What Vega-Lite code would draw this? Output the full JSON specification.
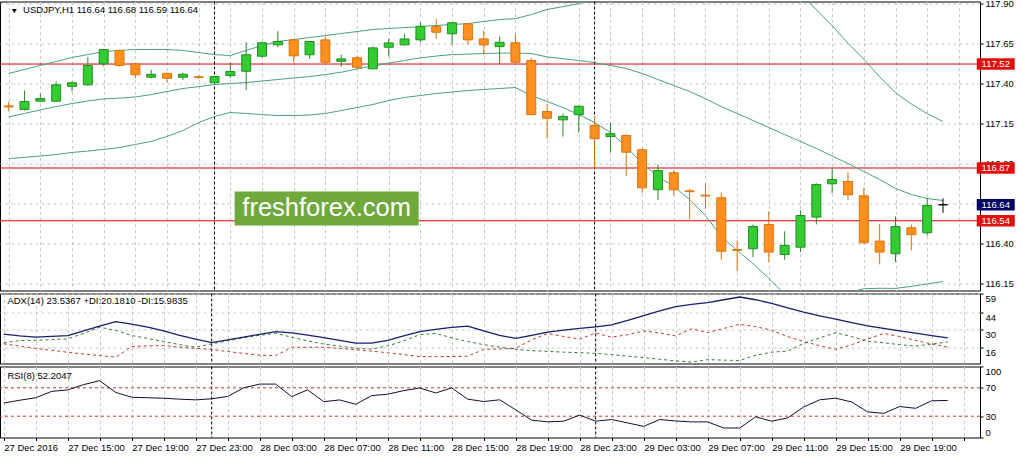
{
  "$schema": "https://vega.github.io/schema/vega-lite/v6.json",
  "autosize": {"type": "pad"},
  "padding": {"left": -1, "top": -2.5, "right": 0, "bottom": 0},
  "background": "#ffffff",
  "spacing": 3,
  "bounds": "flush",
  "config": {
    "view": {"stroke": "#000000", "strokeWidth": 1},
    "axis": {"labelFont": "Liberation Sans", "labelFontSize": 9.5, "labelColor": "#000000", "tickColor": "#000000", "gridColor": "#c8c8c8", "gridDash": [3, 3], "gridWidth": 1, "domain": false, "title": null, "labelOverlap": false}
  },
  "resolve": {"scale": {"x": "independent", "y": "independent"}},
  "datasets": {
    "bars": [
      {"i":0,"o":117.258,"h":117.285,"l":117.225,"c":117.252,"bu":117.461,"bm":117.189,"bl":116.929,"adx":26.4,"pdi":19.5,"mdi":18.7,"rsi":48.5},
      {"i":1,"o":117.236,"h":117.354,"l":117.229,"c":117.286,"bu":117.486,"bm":117.211,"bl":116.936,"adx":25.0,"pdi":21.3,"mdi":16.8,"rsi":52.5},
      {"i":2,"o":117.288,"h":117.334,"l":117.285,"c":117.304,"bu":117.511,"bm":117.233,"bl":116.945,"adx":24.0,"pdi":21.5,"mdi":15.0,"rsi":56.0},
      {"i":3,"o":117.288,"h":117.411,"l":117.285,"c":117.39,"bu":117.536,"bm":117.254,"bl":116.954,"adx":24.6,"pdi":22.0,"mdi":13.5,"rsi":65.0},
      {"i":4,"o":117.381,"h":117.411,"l":117.35,"c":117.403,"bu":117.561,"bm":117.273,"bl":116.967,"adx":25.3,"pdi":22.7,"mdi":11.9,"rsi":67.0},
      {"i":5,"o":117.39,"h":117.563,"l":117.385,"c":117.511,"bu":117.579,"bm":117.289,"bl":116.976,"adx":29.0,"pdi":27.0,"mdi":10.5,"rsi":74.5},
      {"i":6,"o":117.521,"h":117.615,"l":117.506,"c":117.611,"bu":117.598,"bm":117.302,"bl":116.986,"adx":32.8,"pdi":32.0,"mdi":9.3,"rsi":80.0},
      {"i":7,"o":117.604,"h":117.611,"l":117.505,"c":117.511,"bu":117.605,"bm":117.307,"bl":116.998,"adx":36.5,"pdi":29.5,"mdi":7.9,"rsi":63.5},
      {"i":8,"o":117.521,"h":117.525,"l":117.431,"c":117.453,"bu":117.611,"bm":117.314,"bl":117.017,"adx":34.5,"pdi":25.3,"mdi":16.5,"rsi":56.7},
      {"i":9,"o":117.438,"h":117.484,"l":117.43,"c":117.456,"bu":117.611,"bm":117.329,"bl":117.036,"adx":32.0,"pdi":23.0,"mdi":17.0,"rsi":56.0},
      {"i":10,"o":117.462,"h":117.465,"l":117.406,"c":117.431,"bu":117.611,"bm":117.348,"bl":117.067,"adx":29.0,"pdi":20.5,"mdi":17.3,"rsi":55.3},
      {"i":11,"o":117.438,"h":117.465,"l":117.42,"c":117.456,"bu":117.605,"bm":117.367,"bl":117.104,"adx":25.5,"pdi":18.0,"mdi":16.0,"rsi":54.0},
      {"i":12,"o":117.44,"h":117.448,"l":117.425,"c":117.437,"bu":117.592,"bm":117.379,"bl":117.154,"adx":22.5,"pdi":15.9,"mdi":15.0,"rsi":53.0},
      {"i":13,"o":117.404,"h":117.445,"l":117.39,"c":117.442,"bu":117.579,"bm":117.392,"bl":117.192,"adx":19.7,"pdi":18.7,"mdi":14.1,"rsi":54.5},
      {"i":14,"o":117.448,"h":117.531,"l":117.434,"c":117.473,"bu":117.573,"bm":117.398,"bl":117.217,"adx":21.8,"pdi":21.0,"mdi":12.5,"rsi":57.8},
      {"i":15,"o":117.475,"h":117.656,"l":117.359,"c":117.578,"bu":117.605,"bm":117.404,"bl":117.211,"adx":24.0,"pdi":23.5,"mdi":11.0,"rsi":70.0},
      {"i":16,"o":117.569,"h":117.66,"l":117.56,"c":117.653,"bu":117.636,"bm":117.414,"bl":117.204,"adx":26.3,"pdi":25.5,"mdi":9.5,"rsi":75.2},
      {"i":17,"o":117.64,"h":117.725,"l":117.625,"c":117.661,"bu":117.661,"bm":117.423,"bl":117.198,"adx":28.5,"pdi":27.1,"mdi":9.3,"rsi":75.2},
      {"i":18,"o":117.671,"h":117.675,"l":117.531,"c":117.571,"bu":117.673,"bm":117.433,"bl":117.198,"adx":27.5,"pdi":24.0,"mdi":15.9,"rsi":57.6},
      {"i":19,"o":117.578,"h":117.665,"l":117.553,"c":117.661,"bu":117.686,"bm":117.442,"bl":117.201,"adx":25.6,"pdi":21.0,"mdi":15.9,"rsi":67.1},
      {"i":20,"o":117.671,"h":117.692,"l":117.53,"c":117.531,"bu":117.698,"bm":117.454,"bl":117.211,"adx":23.6,"pdi":18.5,"mdi":15.9,"rsi":50.5},
      {"i":21,"o":117.537,"h":117.579,"l":117.504,"c":117.552,"bu":117.711,"bm":117.469,"bl":117.229,"adx":21.5,"pdi":16.8,"mdi":15.0,"rsi":52.9},
      {"i":22,"o":117.559,"h":117.573,"l":117.488,"c":117.5,"bu":117.723,"bm":117.489,"bl":117.248,"adx":19.2,"pdi":15.2,"mdi":14.0,"rsi":46.7},
      {"i":23,"o":117.49,"h":117.629,"l":117.49,"c":117.621,"bu":117.736,"bm":117.508,"bl":117.267,"adx":19.2,"pdi":14.5,"mdi":12.8,"rsi":59.0},
      {"i":24,"o":117.625,"h":117.677,"l":117.567,"c":117.652,"bu":117.742,"bm":117.526,"bl":117.292,"adx":21.5,"pdi":17.0,"mdi":11.5,"rsi":61.0},
      {"i":25,"o":117.64,"h":117.709,"l":117.635,"c":117.677,"bu":117.748,"bm":117.542,"bl":117.311,"adx":25.0,"pdi":21.0,"mdi":10.0,"rsi":66.0},
      {"i":26,"o":117.671,"h":117.781,"l":117.656,"c":117.756,"bu":117.754,"bm":117.558,"bl":117.323,"adx":28.4,"pdi":26.0,"mdi":8.5,"rsi":69.8},
      {"i":27,"o":117.754,"h":117.803,"l":117.678,"c":117.719,"bu":117.761,"bm":117.57,"bl":117.336,"adx":30.2,"pdi":27.0,"mdi":8.4,"rsi":62.7},
      {"i":28,"o":117.709,"h":117.78,"l":117.64,"c":117.778,"bu":117.767,"bm":117.579,"bl":117.345,"adx":31.8,"pdi":23.5,"mdi":8.5,"rsi":69.8},
      {"i":29,"o":117.771,"h":117.775,"l":117.64,"c":117.671,"bu":117.773,"bm":117.582,"bl":117.354,"adx":32.9,"pdi":20.5,"mdi":8.7,"rsi":54.0},
      {"i":30,"o":117.677,"h":117.729,"l":117.578,"c":117.64,"bu":117.786,"bm":117.586,"bl":117.361,"adx":29.0,"pdi":18.0,"mdi":14.2,"rsi":50.7},
      {"i":31,"o":117.629,"h":117.692,"l":117.521,"c":117.656,"bu":117.798,"bm":117.588,"bl":117.367,"adx":25.5,"pdi":16.0,"mdi":14.6,"rsi":53.1},
      {"i":32,"o":117.653,"h":117.704,"l":117.53,"c":117.531,"bu":117.804,"bm":117.589,"bl":117.373,"adx":23.0,"pdi":14.2,"mdi":15.0,"rsi":39.0},
      {"i":33,"o":117.542,"h":117.559,"l":117.2,"c":117.204,"bu":117.829,"bm":117.586,"bl":117.323,"adx":25.5,"pdi":13.2,"mdi":22.0,"rsi":24.5},
      {"i":34,"o":117.223,"h":117.27,"l":117.053,"c":117.181,"bu":117.861,"bm":117.564,"bl":117.286,"adx":28.0,"pdi":12.6,"mdi":27.0,"rsi":22.0},
      {"i":35,"o":117.171,"h":117.209,"l":117.067,"c":117.192,"bu":117.879,"bm":117.554,"bl":117.248,"adx":29.7,"pdi":12.0,"mdi":24.5,"rsi":23.0},
      {"i":36,"o":117.203,"h":117.26,"l":117.09,"c":117.256,"bu":117.898,"bm":117.542,"bl":117.204,"adx":31.0,"pdi":11.6,"mdi":22.5,"rsi":31.6},
      {"i":37,"o":117.136,"h":117.192,"l":116.865,"c":117.053,"bu":117.923,"bm":117.529,"bl":117.154,"adx":32.3,"pdi":11.0,"mdi":27.3,"rsi":23.0},
      {"i":38,"o":117.067,"h":117.154,"l":116.969,"c":117.084,"bu":117.97,"bm":117.511,"bl":117.092,"adx":33.8,"pdi":10.0,"mdi":24.0,"rsi":25.3},
      {"i":39,"o":117.073,"h":117.08,"l":116.819,"c":116.969,"bu":118.03,"bm":117.492,"bl":117.004,"adx":37.5,"pdi":8.8,"mdi":26.0,"rsi":20.5},
      {"i":40,"o":116.984,"h":116.99,"l":116.713,"c":116.746,"bu":118.1,"bm":117.461,"bl":116.898,"adx":41.3,"pdi":7.6,"mdi":29.0,"rsi":15.7},
      {"i":41,"o":116.734,"h":116.892,"l":116.671,"c":116.854,"bu":118.18,"bm":117.423,"bl":116.817,"adx":45.0,"pdi":6.3,"mdi":27.5,"rsi":25.3},
      {"i":42,"o":116.84,"h":116.854,"l":116.7,"c":116.734,"bu":118.25,"bm":117.386,"bl":116.754,"adx":48.5,"pdi":5.0,"mdi":25.0,"rsi":23.3},
      {"i":43,"o":116.727,"h":116.74,"l":116.548,"c":116.722,"bu":118.3,"bm":117.348,"bl":116.673,"adx":50.2,"pdi":4.0,"mdi":30.8,"rsi":22.0},
      {"i":44,"o":116.7,"h":116.775,"l":116.615,"c":116.695,"bu":118.35,"bm":117.304,"bl":116.573,"adx":51.7,"pdi":6.0,"mdi":27.6,"rsi":22.0},
      {"i":45,"o":116.684,"h":116.717,"l":116.296,"c":116.35,"bu":118.36,"bm":117.254,"bl":116.442,"adx":54.0,"pdi":5.6,"mdi":31.0,"rsi":13.4},
      {"i":46,"o":116.36,"h":116.417,"l":116.225,"c":116.355,"bu":118.33,"bm":117.211,"bl":116.354,"adx":56.2,"pdi":5.3,"mdi":34.3,"rsi":13.4},
      {"i":47,"o":116.365,"h":116.517,"l":116.313,"c":116.504,"bu":118.27,"bm":117.167,"bl":116.273,"adx":54.0,"pdi":9.5,"mdi":32.5,"rsi":29.1},
      {"i":48,"o":116.517,"h":116.6,"l":116.281,"c":116.344,"bu":118.18,"bm":117.123,"bl":116.18,"adx":51.0,"pdi":12.0,"mdi":29.5,"rsi":23.0},
      {"i":49,"o":116.329,"h":116.475,"l":116.296,"c":116.386,"bu":118.07,"bm":117.079,"bl":116.08,"adx":47.5,"pdi":12.8,"mdi":24.5,"rsi":27.5},
      {"i":50,"o":116.375,"h":116.604,"l":116.344,"c":116.573,"bu":117.96,"bm":117.036,"bl":116.03,"adx":44.0,"pdi":19.0,"mdi":20.5,"rsi":43.0},
      {"i":51,"o":116.563,"h":116.775,"l":116.517,"c":116.767,"bu":117.86,"bm":116.992,"bl":116.01,"adx":41.0,"pdi":23.5,"mdi":17.2,"rsi":53.1},
      {"i":52,"o":116.771,"h":116.869,"l":116.713,"c":116.798,"bu":117.76,"bm":116.945,"bl":116.04,"adx":38.5,"pdi":27.5,"mdi":14.2,"rsi":55.4},
      {"i":53,"o":116.786,"h":116.844,"l":116.671,"c":116.703,"bu":117.65,"bm":116.898,"bl":116.09,"adx":35.6,"pdi":24.5,"mdi":18.0,"rsi":50.0},
      {"i":54,"o":116.696,"h":116.746,"l":116.395,"c":116.403,"bu":117.55,"bm":116.848,"bl":116.115,"adx":33.0,"pdi":20.8,"mdi":22.5,"rsi":36.0},
      {"i":55,"o":116.413,"h":116.521,"l":116.267,"c":116.344,"bu":117.44,"bm":116.798,"bl":116.118,"adx":31.0,"pdi":19.5,"mdi":27.0,"rsi":34.0},
      {"i":56,"o":116.334,"h":116.567,"l":116.281,"c":116.504,"bu":117.34,"bm":116.742,"bl":116.117,"adx":29.0,"pdi":18.0,"mdi":24.5,"rsi":43.6},
      {"i":57,"o":116.496,"h":116.517,"l":116.354,"c":116.453,"bu":117.27,"bm":116.704,"bl":116.13,"adx":27.2,"pdi":16.8,"mdi":21.4,"rsi":41.1},
      {"i":58,"o":116.465,"h":116.684,"l":116.448,"c":116.635,"bu":117.21,"bm":116.679,"bl":116.145,"adx":25.3,"pdi":18.5,"mdi":18.5,"rsi":51.7},
      {"i":59,"o":116.64,"h":116.68,"l":116.59,"c":116.64,"bu":117.16,"bm":116.667,"bl":116.16,"adx":23.5,"pdi":20.2,"mdi":16.0,"rsi":52.2}
    ],
    "sep": [{"t": 13}, {"t": 37}],
    "levels": [{"p": 117.52}, {"p": 116.87}, {"p": 116.54}],
    "tags": [{"p": 117.52, "kind": "level"}, {"p": 116.87, "kind": "level"}, {"p": 116.54, "kind": "level"}, {"p": 116.64, "kind": "bid"}],
    "rsilv": [{"v": 70}, {"v": 30}]
  },
  "vconcat": [
    {
      "width": 980,
      "height": 289,
      "layer": [
        {
          "data": {"name": "sep"},
          "mark": {"type": "rule", "color": "#000000", "strokeDash": [3, 2], "strokeWidth": 1},
          "encoding": {
            "x": {"field": "t", "type": "quantitative", "scale": {"domain": [-0.231, 61.02], "nice": false, "zero": false},
                  "axis": {"orient": "bottom", "tickCount": 100, "values": [0,2,4,6,8,10,12,14,16,18,20,22,24,26,28,30,32,34,36,38,40,42,44,46,48,50,52,54,56,58,60], "labels": false, "ticks": false, "grid": true}}
          }
        },
        {
          "data": {"name": "levels"},
          "mark": {"type": "rule", "color": "#e00000", "strokeWidth": 1},
          "encoding": {
            "y": {"field": "p", "type": "quantitative", "scale": {"domain": [116.104, 117.911], "nice": false, "zero": false},
                  "axis": {"orient": "right", "tickCount": 100, "values": [116.15, 116.4, 116.65, 116.9, 117.15, 117.4, 117.65, 117.9], "format": ".2f", "tickSize": 3, "labelPadding": 2, "grid": true}}
          }
        },
        {
          "data": {"name": "bars"},
          "transform": [{"fold": ["bu", "bm", "bl"], "as": ["band", "val"]}],
          "mark": {"type": "line", "color": "#4a9e82", "strokeWidth": 1, "clip": true},
          "encoding": {
            "x": {"field": "i", "type": "quantitative"},
            "y": {"field": "val", "type": "quantitative"},
            "detail": {"field": "band", "type": "nominal"}
          }
        },
        {
          "data": {"name": "bars"},
          "mark": {"type": "rule", "strokeWidth": 1, "clip": true},
          "encoding": {
            "x": {"field": "i", "type": "quantitative"},
            "y": {"field": "l", "type": "quantitative"},
            "y2": {"field": "h"},
            "color": {"condition": [{"test": "datum.c == datum.o", "value": "#000000"}, {"test": "datum.c > datum.o", "value": "#238c23"}], "value": "#d9730d"}
          }
        },
        {
          "data": {"name": "bars"},
          "mark": {"type": "bar", "width": 9, "strokeWidth": 1, "clip": true},
          "encoding": {
            "x": {"field": "i", "type": "quantitative"},
            "y": {"field": "o", "type": "quantitative"},
            "y2": {"field": "c"},
            "fill": {"condition": [{"test": "datum.c == datum.o", "value": "#000000"}, {"test": "datum.c > datum.o", "value": "#33cc33"}], "value": "#ff8f1f"},
            "stroke": {"condition": [{"test": "datum.c == datum.o", "value": "#000000"}, {"test": "datum.c > datum.o", "value": "#238c23"}], "value": "#d9730d"}
          }
        },
        {
          "data": {"values": [{"label": "freshforex.com"}]},
          "mark": {"type": "rect", "color": "#6fa83c"},
          "encoding": {
            "x": {"datum": 14.27}, "x2": {"datum": 25.89},
            "y": {"datum": 116.51}, "y2": {"datum": 116.723}
          }
        },
        {
          "data": {"values": [{"label": "freshforex.com"}]},
          "mark": {"type": "text", "color": "#ffffff", "font": "Liberation Sans", "fontSize": 25.5, "align": "center", "baseline": "middle"},
          "encoding": {
            "x": {"datum": 20.08}, "y": {"datum": 116.617},
            "text": {"field": "label"}
          }
        },
        {
          "data": {"name": "tags"},
          "mark": {"type": "point", "shape": "M-1,-0.3H1V0.3H-1Z", "size": 1444, "filled": true, "opacity": 1, "clip": false},
          "encoding": {
            "x": {"datum": 62.33},
            "y": {"field": "p", "type": "quantitative"},
            "color": {"condition": {"test": "datum.kind == 'bid'", "value": "#000066"}, "value": "#e01010"}
          }
        },
        {
          "data": {"name": "tags"},
          "mark": {"type": "text", "color": "#ffffff", "font": "Liberation Sans", "fontSize": 9.5, "align": "center", "baseline": "middle"},
          "encoding": {
            "x": {"datum": 62.33},
            "y": {"field": "p", "type": "quantitative"},
            "text": {"field": "p", "type": "quantitative", "format": ".2f"}
          }
        },
        {
          "data": {"values": [{"label": "▼"}]},
          "mark": {"type": "point", "shape": "triangle-down", "size": 22, "filled": true, "color": "#000000", "opacity": 1},
          "encoding": {"x": {"datum": 0.36}, "y": {"datum": 117.851}}
        },
        {
          "data": {"values": [{"label": "USDJPY,H1  116.64 116.68 116.59 116.64"}]},
          "mark": {"type": "text", "color": "#000000", "font": "Liberation Sans", "fontSize": 9.5, "align": "left", "baseline": "middle"},
          "encoding": {"x": {"datum": 0.91}, "y": {"datum": 117.857}, "text": {"field": "label"}}
        }
      ]
    },
    {
      "width": 980,
      "height": 70,
      "data": {"name": "bars"},
      "layer": [
        {
          "data": {"name": "sep"},
          "mark": {"type": "rule", "color": "#000000", "strokeDash": [3, 2], "strokeWidth": 1},
          "encoding": {
            "x": {"field": "t", "type": "quantitative", "scale": {"domain": [-0.231, 61.02], "nice": false, "zero": false},
                  "axis": {"orient": "bottom", "tickCount": 100, "values": [0,2,4,6,8,10,12,14,16,18,20,22,24,26,28,30,32,34,36,38,40,42,44,46,48,50,52,54,56,58,60], "labels": false, "ticks": false, "grid": true}}
          }
        },
        {
          "mark": {"type": "line", "color": "#2e7d32", "strokeWidth": 1, "strokeDash": [3, 3], "clip": true},
          "encoding": {
            "x": {"field": "i", "type": "quantitative"},
            "y": {"field": "pdi", "type": "quantitative", "scale": {"domain": [2.9, 59.0], "nice": false, "zero": false},
                  "axis": {"orient": "right", "tickCount": 100, "values": [16, 30, 44, 59], "format": "d", "tickSize": 3, "labelPadding": 2, "labelBaseline": "top", "grid": true}}
          }
        },
        {
          "mark": {"type": "line", "color": "#c0392b", "strokeWidth": 1, "strokeDash": [3, 3], "clip": true},
          "encoding": {
            "x": {"field": "i", "type": "quantitative"},
            "y": {"field": "mdi", "type": "quantitative"}
          }
        },
        {
          "mark": {"type": "line", "color": "#13206e", "strokeWidth": 1.3, "clip": true},
          "encoding": {
            "x": {"field": "i", "type": "quantitative"},
            "y": {"field": "adx", "type": "quantitative"}
          }
        },
        {
          "data": {"values": [{"label": "ADX(14) 23.5367 +DI:20.1810 -DI:15.9835"}]},
          "mark": {"type": "text", "color": "#000000", "font": "Liberation Sans", "fontSize": 9.5, "align": "left", "baseline": "middle"},
          "encoding": {"x": {"datum": 0.23}, "y": {"datum": 52.6}, "text": {"field": "label"}}
        }
      ]
    },
    {
      "width": 980,
      "height": 71,
      "data": {"name": "bars"},
      "layer": [
        {
          "data": {"name": "sep"},
          "mark": {"type": "rule", "color": "#000000", "strokeDash": [3, 2], "strokeWidth": 1},
          "encoding": {
            "x": {"field": "t", "type": "quantitative", "scale": {"domain": [-0.231, 61.02], "nice": false, "zero": false},
                  "axis": {"orient": "bottom", "tickCount": 100, "values": [0,2,4,6,8,10,12,14,16,18,20,22,24,26,28,30,32,34,36,38,40,42,44,46,48,50,52,54,56,58,60], "grid": true, "ticks": true, "tickSize": 3, "labelPadding": 2, "labelAlign": "left", "labelBaseline": "top",
                           "labelExpr": "datum.value == 0 ? '27 Dec 2016' : (datum.value % 4 != 0 || datum.value > 56) ? '' : (27 + floor((11 + datum.value) / 24)) + ' Dec ' + (((11 + datum.value) % 24) < 10 ? '0' : '') + ((11 + datum.value) % 24) + ':00'"}}
          }
        },
        {
          "data": {"name": "rsilv"},
          "mark": {"type": "rule", "color": "#c0392b", "strokeDash": [3, 3], "strokeWidth": 1},
          "encoding": {
            "y": {"field": "v", "type": "quantitative", "scale": {"domain": [0, 100], "nice": false, "zero": false},
                  "axis": {"orient": "right", "tickCount": 100, "values": [0, 30, 70, 100], "format": "d", "tickSize": 3, "labelPadding": 2, "labelFlush": true, "grid": false}}
          }
        },
        {
          "mark": {"type": "line", "color": "#101030", "strokeWidth": 1, "clip": true},
          "encoding": {
            "x": {"field": "i", "type": "quantitative"},
            "y": {"field": "rsi", "type": "quantitative"}
          }
        },
        {
          "data": {"values": [{"label": "RSI(8) 52.2047"}]},
          "mark": {"type": "text", "color": "#000000", "font": "Liberation Sans", "fontSize": 9.5, "align": "left", "baseline": "middle"},
          "encoding": {"x": {"datum": 0.23}, "y": {"datum": 86}, "text": {"field": "label"}}
        }
      ]
    }
  ]
}
